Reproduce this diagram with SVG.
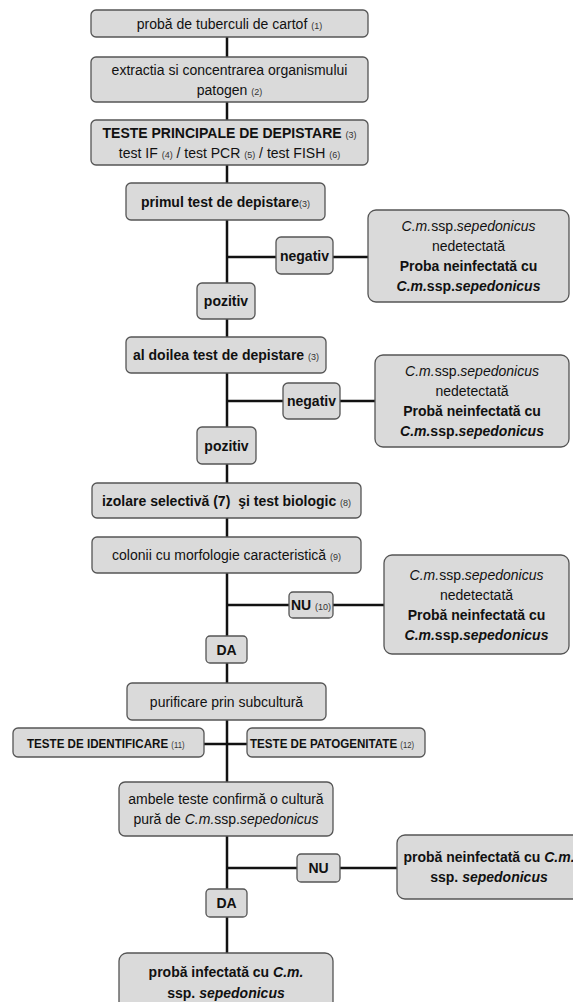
<svg xmlns="http://www.w3.org/2000/svg" width="573" height="1002" viewBox="0 0 573 1002">
<style>
.box{fill:#dadada;stroke:#555;stroke-width:1.3}
.t{font-family:"Liberation Sans",Arial,sans-serif;font-size:14px;fill:#111;text-anchor:middle}
.st{font-family:"Liberation Sans",Arial,sans-serif;font-size:13.5px;fill:#111;font-weight:bold}
.b{font-weight:bold}
.s{font-size:9px;font-weight:normal;font-style:normal;fill:#333}
.i{font-style:italic}
.wire{stroke:#111;stroke-width:2.5;fill:none}
</style>
<rect width="573" height="1002" fill="#fff"/>
<g id="connectors">
<line class="wire" x1="227" y1="37" x2="227" y2="953"/>
<line class="wire" x1="227" y1="257" x2="368" y2="257"/>
<line class="wire" x1="227" y1="401" x2="375" y2="401"/>
<line class="wire" x1="227" y1="605" x2="384" y2="605"/>
<line class="wire" x1="204" y1="744" x2="247" y2="744"/>
<line class="wire" x1="227" y1="868" x2="397" y2="868"/>
</g>
<g id="n1"><rect class="box" x="91" y="10" width="277" height="27" rx="5"/>
<text class="t" x="229.5" y="28.5">probă de tuberculi de cartof <tspan class="s">(1)</tspan></text></g>
<g id="n2"><rect class="box" x="91" y="57" width="277" height="45" rx="5"/>
<text class="t" x="229.5" y="74.5">extractia si concentrarea organismului</text>
<text class="t" x="229.5" y="94.5">patogen <tspan class="s">(2)</tspan></text></g>
<g id="n3"><rect class="box" x="91" y="120" width="277" height="45" rx="5"/>
<text class="t b" x="229.5" y="137.5">TESTE PRINCIPALE DE DEPISTARE <tspan class="s">(3)</tspan></text>
<text class="t" x="229.5" y="157.5">test IF <tspan class="s">(4)</tspan> / test PCR <tspan class="s">(5)</tspan> / test FISH <tspan class="s">(6)</tspan></text></g>
<g id="n4"><rect class="box" x="126" y="183" width="199" height="37" rx="5"/>
<text class="t b" x="225.5" y="206.5">primul test de depistare<tspan class="s">(3)</tspan></text></g>
<g id="n5"><rect class="box" x="276" y="237" width="57" height="37" rx="5"/>
<text class="t b" x="304.5" y="260.5">negativ</text></g>
<g id="n6"><rect class="box" x="368" y="210" width="201" height="92" rx="8"/>
<text class="t" x="468.5" y="231"><tspan class="i">C.m.</tspan>ssp.<tspan class="i">sepedonicus</tspan></text>
<text class="t" x="468.5" y="251">nedetectată</text>
<text class="t b" x="468.5" y="271">Proba neinfectată cu</text>
<text class="t b" x="468.5" y="291"><tspan class="i">C.m.</tspan>ssp.<tspan class="i">sepedonicus</tspan></text></g>
<g id="n7"><rect class="box" x="197" y="283" width="58" height="36" rx="5"/>
<text class="t b" x="226" y="306">pozitiv</text></g>
<g id="n8"><rect class="box" x="126" y="337" width="200" height="36" rx="5"/>
<text class="t b" x="226" y="360">al doilea test de depistare <tspan class="s">(3)</tspan></text></g>
<g id="n9"><rect class="box" x="283" y="383" width="57" height="36" rx="5"/>
<text class="t b" x="311.5" y="406">negativ</text></g>
<g id="n10"><rect class="box" x="375" y="355" width="194" height="92" rx="8"/>
<text class="t" x="472" y="376"><tspan class="i">C.m.</tspan>ssp.<tspan class="i">sepedonicus</tspan></text>
<text class="t" x="472" y="396">nedetectată</text>
<text class="t b" x="472" y="416">Probă neinfectată cu</text>
<text class="t b" x="472" y="436"><tspan class="i">C.m.</tspan>ssp.<tspan class="i">sepedonicus</tspan></text></g>
<g id="n11"><rect class="box" x="197" y="427" width="59" height="37" rx="5"/>
<text class="t b" x="226.5" y="450.5">pozitiv</text></g>
<g id="n12"><rect class="box" x="92" y="483" width="269" height="35" rx="5"/>
<text class="t b" x="226.5" y="505.5">izolare selectivă (7) <tspan dx="4">şi test biologic </tspan><tspan class="s">(8)</tspan></text></g>
<g id="n13"><rect class="box" x="92" y="537" width="269" height="36" rx="5"/>
<text class="t" x="226.5" y="560">colonii cu morfologie caracteristică <tspan class="s">(9)</tspan></text></g>
<g id="n14"><rect class="box" x="289" y="592" width="44" height="26" rx="4"/>
<text class="t b" x="311" y="610">NU <tspan class="s">(10)</tspan></text></g>
<g id="n15"><rect class="box" x="384" y="555" width="185" height="99" rx="8"/>
<text class="t" x="476.5" y="579.5"><tspan class="i">C.m.</tspan>ssp.<tspan class="i">sepedonicus</tspan></text>
<text class="t" x="476.5" y="599.5">nedetectată</text>
<text class="t b" x="476.5" y="619.5">Probă neinfectată cu</text>
<text class="t b" x="476.5" y="639.5"><tspan class="i">C.m.</tspan>ssp.<tspan class="i">sepedonicus</tspan></text></g>
<g id="n16"><rect class="box" x="206" y="636" width="41" height="27" rx="4"/>
<text class="t b" x="226.5" y="654.5">DA</text></g>
<g id="n17"><rect class="box" x="127" y="683" width="199" height="37" rx="5"/>
<text class="t" x="226.5" y="706.5">purificare prin subcultură</text></g>
<g id="n18"><rect class="box" x="13" y="728" width="191" height="29" rx="5"/>
<text class="st" transform="translate(27,747.5) scale(0.86,1)">TESTE DE IDENTIFICARE <tspan class="s" font-size="11">(11)</tspan></text></g>
<g id="n19"><rect class="box" x="247" y="728" width="178" height="29" rx="5"/>
<text class="st" transform="translate(250,747.5) scale(0.86,1)">TESTE DE PATOGENITATE <tspan class="s" font-size="11">(12)</tspan></text></g>
<g id="n20"><rect class="box" x="119" y="782" width="214" height="54" rx="6"/>
<text class="t" x="226" y="804">ambele teste confirmă o cultură</text>
<text class="t" x="226" y="824">pură de <tspan class="i">C.m.</tspan>ssp.<tspan class="i">sepedonicus</tspan></text></g>
<g id="n21"><rect class="box" x="297" y="854" width="43" height="28" rx="4"/>
<text class="t b" x="318.5" y="873">NU</text></g>
<g id="n22"><rect class="box" x="397" y="835" width="184" height="64" rx="8"/>
<text class="t b" x="489" y="862">probă neinfectată cu <tspan class="i">C.m.</tspan></text>
<text class="t b" x="489" y="882">ssp. <tspan class="i">sepedonicus</tspan></text></g>
<g id="n23"><rect class="box" x="206" y="889" width="41" height="28" rx="4"/>
<text class="t b" x="226.5" y="908">DA</text></g>
<g id="n24"><rect class="box" x="119" y="953" width="214" height="60" rx="8"/>
<text class="t b" x="226" y="977">probă infectată cu <tspan class="i">C.m.</tspan></text>
<text class="t b" x="226" y="998">ssp. <tspan class="i">sepedonicus</tspan></text></g>
</svg>
